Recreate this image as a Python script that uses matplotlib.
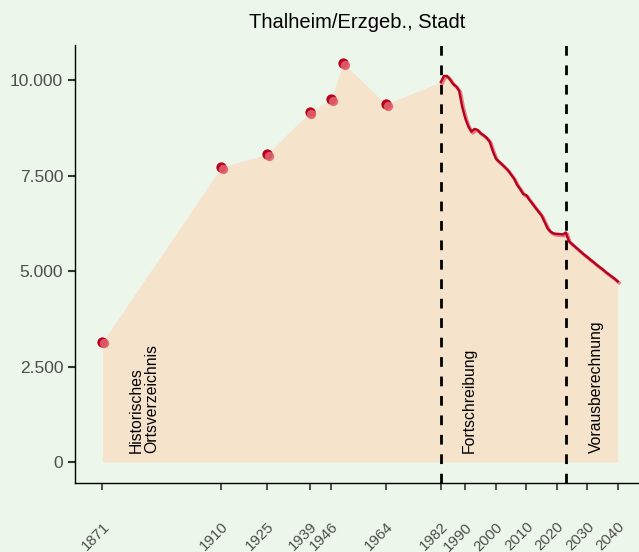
import matplotlib
matplotlib.use("Agg")
import matplotlib.pyplot as plt
import matplotlib.transforms as mtransforms
from matplotlib.ticker import FuncFormatter

plt.rcParams['font.family'] = ['Liberation Sans', 'DejaVu Sans']

# Historical census points
hist_years = [1871, 1910, 1925, 1939, 1946, 1950, 1964]
hist_values = [3140, 7720, 8060, 9160, 9500, 10440, 9370]

# Continuous series (Fortschreibung + Vorausberechnung)
line_years = list(range(1982, 2041))
line_values = [9950, 10110, 10110, 10020, 9900, 9840, 9720, 9300, 9000, 8790,
               8650, 8720, 8700, 8610, 8560, 8490, 8390, 8150, 7950, 7870,
               7800, 7720, 7640, 7530, 7420, 7260, 7150, 7020, 6990, 6870,
               6770, 6660, 6560, 6460, 6290, 6120, 6030, 5985, 5975, 5970,
               5960, 6010, 5780, 5710, 5640, 5570, 5500, 5430, 5370, 5300,
               5240, 5170, 5110, 5050, 4980, 4920, 4860, 4800, 4730]

tick_years = [1871, 1910, 1925, 1939, 1946, 1964, 1982, 1990, 2000, 2010, 2020, 2030, 2040]
yticks = [0, 2500, 5000, 7500, 10000]
vlines = [1982, 2023]
labels = [("Historisches\nOrtsverzeichnis", 1884.6), ("Fortschreibung", 1991.3), ("Vorausberechnung", 2033.0)]

bg = "#edf6eb"
fill_c = "#f5e3cc"
dark_red = "#b5001e"
light_red = "#e0606a"

fig = plt.figure(figsize=(6.39, 5.52), dpi=100, facecolor=bg)
ax = fig.add_axes([0.1174, 0.125, 0.8826, 0.7935], facecolor=bg)

all_x = hist_years + line_years
all_y = hist_values + line_values
ax.fill_between(all_x, 0, all_y, color=fill_c, lw=0, zorder=1)

for v in vlines:
    ax.axvline(v, color="black", lw=2, ls=(0, (3.5, 3.5)), zorder=3)

# line with lighter shadow
shadow = mtransforms.offset_copy(ax.transData, fig=fig, x=1.0, y=-1.0, units='points')
ax.plot(line_years, line_values, color=light_red, lw=2.4, alpha=0.8, transform=shadow, zorder=4)
ax.plot(line_years, line_values, color=dark_red, lw=1.7, zorder=5)

ax.scatter(hist_years, hist_values, s=55, color=dark_red, zorder=6, lw=0)
ax.scatter(hist_years, hist_values, s=45, color=light_red, zorder=7, lw=0, alpha=0.9,
           transform=mtransforms.offset_copy(ax.transData, fig=fig, x=1.2, y=-1.0, units='points'))

for txt, x in labels:
    ax.text(x, 240, txt, rotation=90, ha='center', va='bottom', fontsize=11.3,
            color="black", zorder=8, linespacing=1.1, multialignment='left')

ax.set_xlim(1862, 2047)
ax.set_ylim(-550, 10920)
ax.set_xticks(tick_years)
ax.set_xticklabels([str(t) for t in tick_years], rotation=45, ha='right', va='top',
                   rotation_mode='anchor', fontsize=10.8, color="#4d4d4d")
ax.set_yticks(yticks)
ax.yaxis.set_major_formatter(FuncFormatter(lambda v, p: f"{int(v):,}".replace(",", ".")))
ax.tick_params(axis='y', labelsize=12.5, labelcolor="#4d4d4d", color="#333333", length=5, width=1.5)
ax.tick_params(axis='x', color="#333333", length=5, width=1.2, pad=21.5)

for s in ['top', 'right']:
    ax.spines[s].set_visible(False)
for s in ['left', 'bottom']:
    ax.spines[s].set_color("black")
    ax.spines[s].set_linewidth(1.0)

ax.set_title("Thalheim/Erzgeb., Stadt", fontsize=14.5, color="black", pad=12)

fig.savefig("out.png", dpi=100, facecolor=bg)
